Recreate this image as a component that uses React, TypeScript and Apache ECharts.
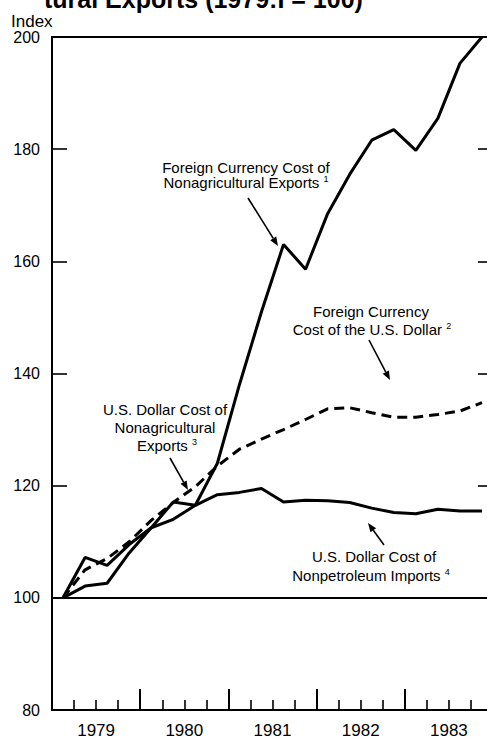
import React, { useEffect, useRef } from "react";
import * as echarts from "echarts";

const quarters = [
  "1979Q1", "1979Q2", "1979Q3", "1979Q4",
  "1980Q1", "1980Q2", "1980Q3", "1980Q4",
  "1981Q1", "1981Q2", "1981Q3", "1981Q4",
  "1982Q1", "1982Q2", "1982Q3", "1982Q4",
  "1983Q1", "1983Q2", "1983Q3", "1983Q4",
];
const yearLabels = ["1979", "1980", "1981", "1982", "1983"];
const yTicks = [80, 100, 120, 140, 160, 180, 200];

// Foreign Currency Cost of Nonagricultural Exports (solid, steep)
const fcCostNonagExports = [
  100, 107.2, 105.8, 109.5, 112.5, 114, 116.5, 124, 138, 151,
  163, 158.6, 168.5, 175.5, 181.6, 183.5, 179.8, 185.5, 195.3, 200,
];
// Dashed line (Foreign Currency Cost of the U.S. Dollar / U.S. Dollar Cost of Nonag. Exports)
const fcCostOfDollar = [
  100, 105, 107, 110, 113.8, 117, 119.8, 123.5, 126.5, 128.3,
  130, 131.8, 133.7, 133.9, 133, 132.2, 132.2, 132.7, 133.3, 134.8,
];
// U.S. Dollar Cost of Nonpetroleum Imports (solid, flat)
const usdCostNonpetroleumImports = [
  100, 102.1, 102.6, 108, 112.5, 117.1, 116.5, 118.4, 118.8, 119.5,
  117.1, 117.4, 117.3, 117.0, 116.0, 115.2, 115.0, 115.8, 115.5, 115.5,
];

const FONT = "'Liberation Sans', Arial, Helvetica, sans-serif";

function qToX(q: string): number {
  const y = parseInt(q.slice(0, 4), 10);
  const n = parseInt(q.slice(5), 10);
  return y + (n - 0.5) / 4;
}

function pairs(vals: number[]) {
  return quarters.map((q, i) => [qToX(q), vals[i]]);
}

function txt(x: number, y: number, text: string, size = 15, extra: any = {}) {
  return {
    type: "text",
    silent: true,
    style: {
      x,
      y,
      text,
      fill: "#000",
      font: `${size}px ${FONT}`,
      fontSize: size,
      fontFamily: FONT,
      align: "center",
      verticalAlign: "middle",
      textAlign: "center",
      textVerticalAlign: "middle",
      ...extra,
    },
  };
}

function supText(x: number, y: number, main: string, sup: string, size = 15) {
  return {
    type: "text",
    silent: true,
    style: {
      x,
      y,
      text: `{m|${main} }{s|${sup}}`,
      align: "center",
      verticalAlign: "middle",
      rich: {
        m: { fontSize: size, fontFamily: FONT, fill: "#000", lineHeight: 16, verticalAlign: "middle" },
        s: { fontSize: 9, fontFamily: FONT, fill: "#000", lineHeight: 16, verticalAlign: "top" },
      },
    },
  };
}

function arrow(x1: number, y1: number, x2: number, y2: number) {
  const ang = Math.atan2(y2 - y1, x2 - x1);
  const L = 9;
  const W = 3.5;
  const bx = x2 - L * Math.cos(ang);
  const by = y2 - L * Math.sin(ang);
  const px = -Math.sin(ang) * W;
  const py = Math.cos(ang) * W;
  return [
    {
      type: "line",
      silent: true,
      shape: { x1, y1, x2: bx, y2: by },
      style: { stroke: "#000", lineWidth: 1.6 },
    },
    {
      type: "polygon",
      silent: true,
      shape: { points: [[x2, y2], [bx + px, by + py], [bx - px, by - py]] },
      style: { fill: "#000" },
    },
  ];
}

export default function App() {
  const ref = useRef<HTMLDivElement>(null);
  useEffect(() => {
    if (!ref.current) return;
    const chart = echarts.init(ref.current, undefined, { renderer: "svg" });
    const axisCommon = {
      axisLine: { show: true, lineStyle: { color: "#000", width: 2 } },
      splitLine: { show: false },
    };
    chart.setOption({
      animation: false,
      backgroundColor: "#fff",
      textStyle: { fontFamily: FONT },
      grid: {
        left: 52,
        top: 37,
        width: 441,
        height: 673,
        show: true,
        borderColor: "#000",
        borderWidth: 2,
        backgroundColor: "transparent",
      },
      xAxis: [
        {
          type: "value",
          min: 1979,
          max: 1984,
          interval: 1,
          ...axisCommon,
          axisTick: { show: true, inside: true, length: 21, lineStyle: { color: "#000", width: 2 } },
          minorTick: { show: true, splitNumber: 4, length: 10, lineStyle: { color: "#000", width: 1.6 } },
          axisLabel: { show: false },
        },
        {
          type: "category",
          data: yearLabels,
          position: "bottom",
          boundaryGap: true,
          axisLine: { show: false },
          axisTick: { show: false },
          splitLine: { show: false },
          axisLabel: { color: "#000", fontSize: 17, fontFamily: FONT, margin: 12 },
        },
      ],
      yAxis: [
        {
          type: "value",
          min: 80,
          max: 200,
          interval: 20,
          position: "left",
          ...axisCommon,
          axisTick: { show: true, inside: true, length: 15, lineStyle: { color: "#000", width: 1.6 } },
          axisLabel: {
            color: "#000",
            fontSize: 16,
            fontFamily: FONT,
            margin: 12,
            formatter: (v: number) => (yTicks.includes(v) ? String(v) : ""),
          },
        },
        {
          type: "value",
          min: 80,
          max: 200,
          interval: 20,
          position: "right",
          ...axisCommon,
          axisTick: { show: true, inside: true, length: 15, lineStyle: { color: "#000", width: 1.6 } },
          axisLabel: { show: false },
        },
      ],
      series: [
        {
          name: "Foreign Currency Cost of Nonagricultural Exports",
          type: "line",
          xAxisIndex: 0,
          yAxisIndex: 0,
          data: pairs(fcCostNonagExports),
          symbol: "none",
          lineStyle: { color: "#000", width: 3 },
          z: 3,
        },
        {
          name: "Foreign Currency Cost of the U.S. Dollar",
          type: "line",
          xAxisIndex: 0,
          yAxisIndex: 0,
          data: pairs(fcCostOfDollar),
          symbol: "none",
          lineStyle: { color: "#000", width: 3, type: [10, 6] },
          z: 3,
        },
        {
          name: "U.S. Dollar Cost of Nonpetroleum Imports",
          type: "line",
          xAxisIndex: 0,
          yAxisIndex: 0,
          data: pairs(usdCostNonpetroleumImports),
          symbol: "none",
          lineStyle: { color: "#000", width: 3 },
          z: 3,
          markLine: {
            silent: true,
            symbol: ["none", "none"],
            label: { show: false },
            lineStyle: { color: "#000", type: "solid", width: 2 },
            data: [{ yAxis: 100 }],
          },
        },
      ],
      graphic: [
        {
          type: "text",
          silent: true,
          style: {
            x: 44,
            y: -1,
            text: "tural Exports (1979:I = 100)",
            fill: "#000",
            font: `bold 25px ${FONT}`,
            align: "left",
            verticalAlign: "middle",
            textAlign: "left",
            textVerticalAlign: "middle",
          },
        },
        txt(11, 21, "Index", 17, { align: "left", textAlign: "left" }),
        // 1
        txt(246, 167, "Foreign Currency Cost of"),
        supText(246, 182, "Nonagricultural Exports", "1"),
        ...arrow(248, 198, 278, 246),
        // 2
        txt(371, 311, "Foreign Currency"),
        supText(372, 329, "Cost of the U.S. Dollar", "2"),
        ...arrow(369, 340, 390, 380),
        // 3
        txt(165, 409, "U.S. Dollar Cost of"),
        txt(165, 427, "Nonagricultural"),
        supText(167, 445, "Exports", "3"),
        ...arrow(170, 458, 188, 490),
        // 4
        txt(374, 556, "U.S. Dollar Cost of"),
        supText(371, 575, "Nonpetroleum Imports", "4"),
        ...arrow(384, 545, 368, 523),
      ],
    });
    return () => chart.dispose();
  }, []);
  return (
    <div
      style={{
        position: "fixed",
        left: 0,
        top: 0,
        width: 487,
        height: 740,
        overflow: "hidden",
        background: "#fff",
      }}
    >
      <div ref={ref} style={{ width: 500, height: 740 }} />
    </div>
  );
}
